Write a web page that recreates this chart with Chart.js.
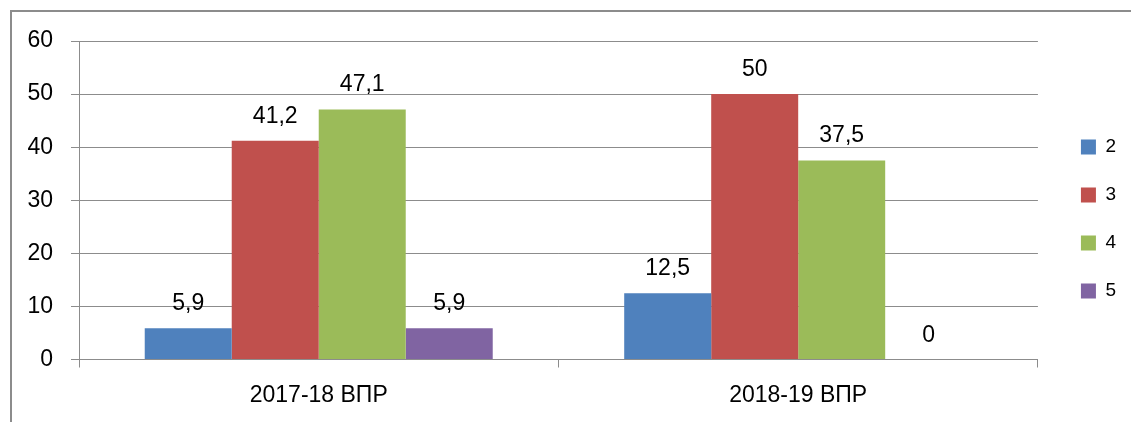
<!DOCTYPE html>
<html>
<head>
<meta charset="utf-8">
<script src="https://cdn.jsdelivr.net/npm/chart.js@4/dist/chart.umd.min.js"></script>
<style>
  html, body { margin: 0; padding: 0; background: #fff; overflow: hidden; }
  #frame { position: absolute; left: 10px; top: 10px; width: 1140px; height: 440px; border: 2px solid #8c8c8c; box-sizing: border-box; }
  #c { position: absolute; left: 0; top: 0; }
</style>
</head>
<body>
<div id="frame"></div>
<canvas id="c" width="1131" height="422"></canvas>
<script>
const categories = ["2017-18 ВПР", "2018-19 ВПР"];
const seriesNames = ["2", "3", "4", "5"];
const series2 = [5.9, 12.5];
const series3 = [41.2, 50];
const series4 = [47.1, 37.5];
const series5 = [5.9, 0];
const yTicks = [0, 10, 20, 30, 40, 50, 60];

const colors = ["#4F81BD", "#C0504D", "#9BBB59", "#8064A2"];
const FONT = "'Liberation Sans', Arial, sans-serif";

const valueLabels = {
  id: 'valueLabels',
  afterDatasetsDraw(chart) {
    const ctx = chart.ctx;
    ctx.save();
    ctx.font = "23px " + FONT;
    ctx.fillStyle = "#000";
    ctx.textAlign = "center";
    ctx.textBaseline = "alphabetic";
    chart.data.datasets.forEach((ds, di) => {
      const meta = chart.getDatasetMeta(di);
      meta.data.forEach((el, i) => {
        const v = ds.data[i];
        ctx.fillText(String(v).replace('.', ','), el.x, el.y - 18);
      });
    });
    ctx.restore();
  }
};

const allSeries = [series2, series3, series4, series5];
new Chart(document.getElementById('c'), {
  type: 'bar',
  data: {
    labels: categories,
    datasets: allSeries.map((d, i) => ({
      label: seriesNames[i],
      data: d,
      backgroundColor: colors[i],
      borderWidth: 0,
      xAxisID: 'x',
      yAxisID: 'y',
      categoryPercentage: 0.7258,
      barPercentage: 1.0
    }))
  },
  options: {
    responsive: false,
    animation: false,
    layout: { padding: { top: 18.5, bottom: 2.5, left: 0, right: 5 } },
    plugins: {
      tooltip: { enabled: false },
      legend: {
        position: 'right',
        labels: {
          boxWidth: 15, boxHeight: 15, padding: 29,
          color: '#000',
          font: { family: FONT, size: 19 }
        }
      }
    },
    scales: {
      x: {
        grid: { display: true, drawOnChartArea: false, drawTicks: true, tickLength: 8, color: '#8c8c8c', offset: true },
        border: { display: true, color: '#8c8c8c', width: 1 },
        ticks: { color: '#000', font: { family: FONT, size: 23 }, padding: 14 },
        afterFit(s) { s.height = 60; }
      },
      xTop: {
        type: 'category',
        position: 'top',
        display: true,
        grid: { display: false },
        border: { display: false },
        ticks: { display: false },
        afterFit(s) { s.height = 22.5; }
      },
      y: {
        min: 0, max: 60,
        afterBuildTicks(s) { s.ticks = yTicks.map(v => ({ value: v })); },
        grid: { color: '#8c8c8c', lineWidth: 1, tickLength: 8 },
        border: { display: true, color: '#8c8c8c', width: 1 },
        ticks: { color: '#000', font: { family: FONT, size: 23 }, padding: 18 },
        afterFit(s) { s.width = 79; }
      },
      yR: {
        type: 'linear',
        position: 'right',
        display: true,
        grid: { display: false },
        border: { display: false },
        ticks: { display: false },
        afterFit(s) { s.width = 14; }
      }
    }
  },
  plugins: [valueLabels]
});
</script>
</body>
</html>
